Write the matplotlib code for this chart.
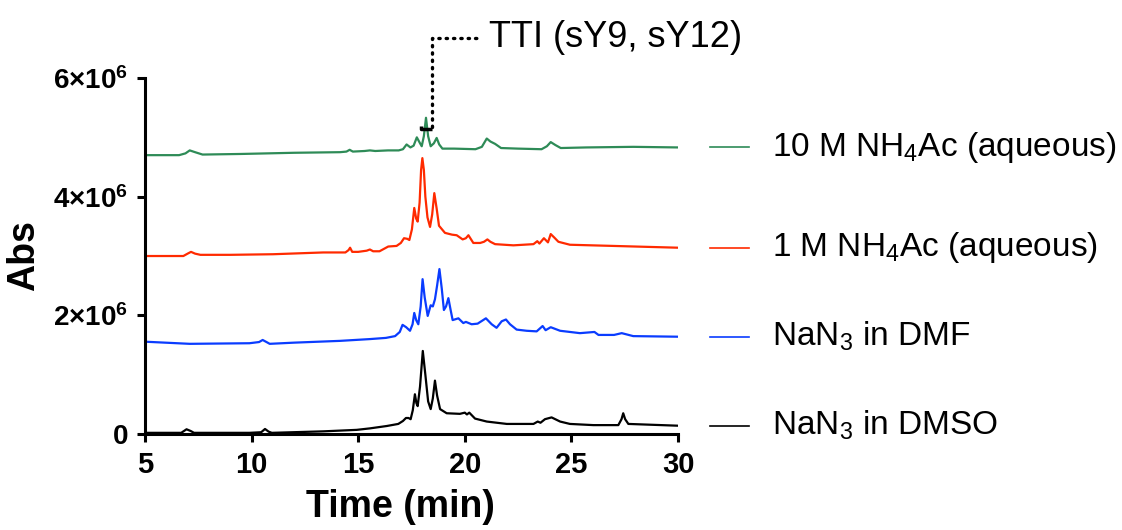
import matplotlib
matplotlib.use('Agg')
import matplotlib.pyplot as plt
import matplotlib.transforms as mtransforms
import numpy as np

plt.rcParams['font.family'] = ['Liberation Sans', 'DejaVu Sans']
plt.rcParams['mathtext.fontset'] = 'custom'
plt.rcParams['mathtext.rm'] = 'Liberation Sans'
plt.rcParams['mathtext.it'] = 'Liberation Sans:italic'
plt.rcParams['mathtext.bf'] = 'Liberation Sans:bold'

# Chromatogram traces (time in min, absorbance in units of 1e6)
t_green = [5.0, 6.6, 6.9, 7.1, 7.35, 7.7, 9.5, 12.0, 14.15, 14.45, 14.6, 14.75, 15.3, 15.55, 15.8,
           16.4, 16.9, 17.1, 17.27, 17.45, 17.6, 17.75, 17.9, 17.98, 18.08, 18.18, 18.28, 18.40,
           18.55, 18.68, 18.8, 18.95, 19.5, 20.5, 20.8, 21.03, 21.2, 21.42, 21.7, 22.5, 23.6,
           23.85, 24.03, 24.25, 24.5, 25.7, 27.9, 30.0]
v_green = [4.70, 4.70, 4.73, 4.78, 4.75, 4.71, 4.72, 4.74, 4.75, 4.76, 4.79, 4.76, 4.77, 4.78, 4.77,
           4.78, 4.78, 4.80, 4.88, 4.83, 4.86, 5.00, 4.90, 4.85, 5.02, 5.33, 5.02, 4.85,
           4.90, 4.99, 4.88, 4.81, 4.81, 4.80, 4.84, 4.98, 4.93, 4.89, 4.82, 4.81, 4.80,
           4.85, 4.92, 4.87, 4.82, 4.83, 4.84, 4.83]

t_red = [5.0, 6.8, 7.0, 7.16, 7.35, 7.6, 9.0, 11.0, 13.36, 14.4, 14.55, 14.62, 14.72, 15.0, 15.4,
         15.55, 15.7, 16.0, 16.41, 16.8, 17.0, 17.15, 17.3, 17.4, 17.52, 17.63, 17.72, 17.79,
         17.88, 17.95, 18.01, 18.08, 18.15, 18.25, 18.37, 18.47, 18.57, 18.68, 18.79, 19.07,
         19.4, 19.62, 19.9, 20.05, 20.17, 20.4, 20.72, 20.9, 21.06, 21.2, 21.42, 22.28, 23.22,
         23.40, 23.5, 23.71, 23.9, 24.03, 24.2, 24.39, 24.93, 26.97, 30.0]
v_red = [3.00, 3.00, 3.04, 3.07, 3.04, 3.02, 3.02, 3.03, 3.06, 3.06, 3.10, 3.14, 3.07, 3.07, 3.09,
         3.11, 3.08, 3.08, 3.16, 3.17, 3.22, 3.30, 3.29, 3.27, 3.45, 3.81, 3.63, 3.58,
         3.90, 4.45, 4.65, 4.45, 4.00, 3.65, 3.49, 3.70, 4.06, 3.80, 3.51, 3.39,
         3.36, 3.35, 3.28, 3.30, 3.35, 3.22, 3.22, 3.24, 3.28, 3.24, 3.20, 3.18, 3.20,
         3.25, 3.21, 3.30, 3.23, 3.37, 3.31, 3.24, 3.19, 3.17, 3.14]

t_blue = [5.0, 7.1, 9.9, 10.35, 10.52, 10.7, 10.85, 12.0, 14.15, 15.55, 16.3, 16.73, 16.95, 17.08,
          17.25, 17.43, 17.55, 17.63, 17.72, 17.82, 17.93, 18.02, 18.12, 18.26, 18.4, 18.5, 18.6,
          18.7, 18.81, 18.92, 19.02, 19.12, 19.23, 19.33, 19.43, 19.70, 19.93, 20.05, 20.32, 20.6,
          20.99, 21.26, 21.49, 21.73, 21.93, 22.12, 22.43, 22.90, 23.37, 23.65, 23.79, 24.03,
          24.47, 25.4, 26.08, 26.27, 27.0, 27.36, 27.9, 30.0]
v_blue = [1.556, 1.52, 1.53, 1.55, 1.585, 1.55, 1.52, 1.54, 1.57, 1.60, 1.62, 1.65, 1.72, 1.84,
          1.80, 1.74, 1.85, 2.04, 1.92, 1.85, 2.15, 2.61, 2.30, 1.99, 2.17, 2.15, 2.27,
          2.50, 2.78, 2.45, 2.09, 2.15, 2.29, 2.10, 1.92, 1.95, 1.87, 1.89, 1.85, 1.86,
          1.95, 1.85, 1.79, 1.90, 1.93, 1.85, 1.76, 1.74, 1.73, 1.82, 1.75, 1.80,
          1.74, 1.70, 1.72, 1.67, 1.67, 1.70, 1.65, 1.64]

t_black = [5.0, 6.7, 6.95, 7.15, 7.3, 9.9, 10.45, 10.63, 10.8, 10.95, 13.36, 14.93, 15.55, 16.34,
           16.88, 17.1, 17.24, 17.36, 17.46, 17.56, 17.66, 17.73, 17.79, 17.9, 18.03, 18.15, 18.28,
           18.40, 18.5, 18.6, 18.7, 18.84, 19.15, 19.77, 20.0, 20.1, 20.21, 20.48, 21.03, 21.97,
           23.22, 23.42, 23.55, 23.76, 24.07, 24.47, 24.93, 26.03, 27.2, 27.35, 27.43, 27.52,
           27.67, 30.0]
v_black = [0.02, 0.02, 0.08, 0.05, 0.02, 0.02, 0.03, 0.085, 0.04, 0.02, 0.045, 0.07, 0.095, 0.135,
           0.17, 0.22, 0.27, 0.27, 0.25, 0.40, 0.67, 0.52, 0.47, 0.80, 1.40, 1.00, 0.55,
           0.42, 0.60, 0.90, 0.65, 0.42, 0.35, 0.34, 0.36, 0.33, 0.36, 0.26, 0.21, 0.17,
           0.17, 0.21, 0.19, 0.25, 0.28, 0.21, 0.17, 0.15, 0.15, 0.25, 0.35, 0.25,
           0.17, 0.14]

series = [
    (t_green, v_green, '#2e8b57', '10 M NH$_4$Ac (aqueous)'),
    (t_red, v_red, '#ff2a00', '1 M NH$_4$Ac (aqueous)'),
    (t_blue, v_blue, '#0a3cff', 'NaN$_3$ in DMF'),
    (t_black, v_black, '#000000', 'NaN$_3$ in DMSO'),
]

xticks = [5, 10, 15, 20, 25, 30]
xtick_labels = ['5', '10', '15', '20', '25', '30']
yticks = [0, 2e6, 4e6, 6e6]
ytick_labels = ['0', r'$\mathbf{2{\times}10^6}$', r'$\mathbf{4{\times}10^6}$', r'$\mathbf{6{\times}10^6}$']

fig = plt.figure(figsize=(11.22, 5.30), dpi=100)
ax = fig.add_axes([0.1292, 0.1811, 0.4751, 0.6717])

trans = mtransforms.blended_transform_factory(ax.transAxes, ax.transData)
for t, v, c, lab in series:
    y = np.array(v) * 1e6
    ax.plot(t, y, color=c, lw=1.6)
    # label at the end of each trace
    ax.plot([1.06, 1.133], [y[-1], y[-1]], color=c, lw=1.2, transform=trans, clip_on=False)
    ax.text(1.176, y[-1], lab, transform=trans, fontsize=24, va='center', ha='left')

# TTI annotation
ax.plot([17.93, 17.93, 18.45], [5.19e6, 5.14e6, 5.14e6], color='black', lw=2.5, clip_on=False,
        solid_capstyle='butt')
ax.plot([18.45, 18.45, 20.55], [5.18e6, 6.67e6, 6.67e6], color='black', lw=2.4,
        linestyle=(0, (0.4, 1.8)), dash_capstyle='round', clip_on=False)
ax.text(21.15, 6.69e6, 'TTI (sY9, sY12)', fontsize=26, va='center', ha='left')

ax.set_xlim(5, 30)
ax.set_ylim(0, 6e6)
ax.set_xticks(xticks, labels=xtick_labels, fontsize=21, fontweight='bold')
ax.set_yticks(yticks, labels=ytick_labels, fontsize=20, fontweight='bold')

ax.spines['top'].set_visible(False)
ax.spines['right'].set_visible(False)
ax.spines['left'].set_linewidth(2.2)
ax.spines['bottom'].set_linewidth(2.2)
ax.tick_params(axis='both', direction='out', length=6, width=2.2)
ax.tick_params(axis='x', pad=6)
ax.tick_params(axis='y', pad=6)

ax.set_xlabel('Time (min)', fontsize=27, fontweight='bold')
ax.xaxis.set_label_coords(0.479, -0.155)
ax.set_ylabel('Abs', fontsize=27, fontweight='bold', labelpad=8)

fig.savefig('out.png', dpi=100)
